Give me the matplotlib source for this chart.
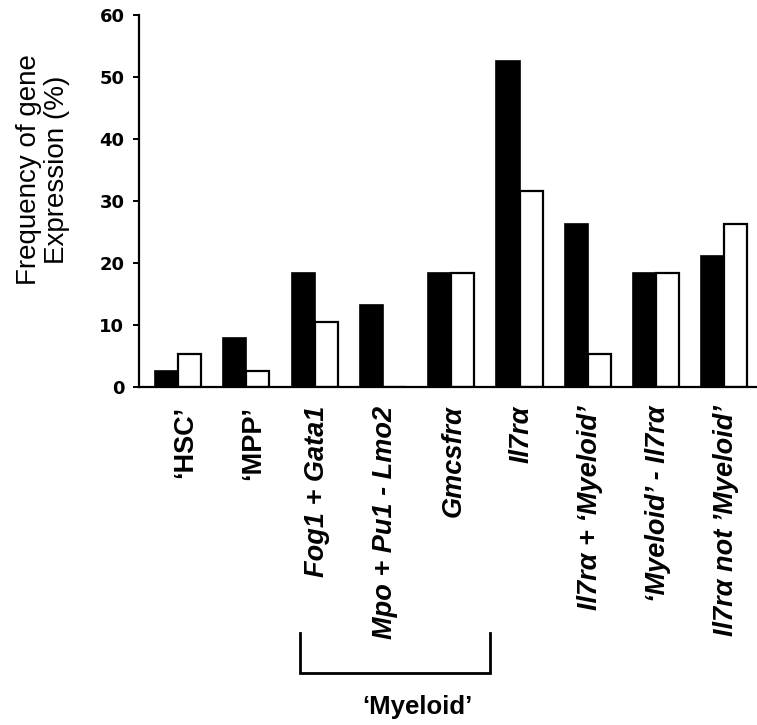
import matplotlib
matplotlib.use("Agg")
import matplotlib.pyplot as plt
import numpy as np
from matplotlib.transforms import blended_transform_factory, ScaledTranslation

# frequencies (%)
categories = ["\u2018HSC\u2019", "\u2018MPP\u2019", "Fog1 + Gata1", "Mpo + Pu1 - Lmo2",
              "Gmcsfr\u03b1", "Il7r\u03b1", "Il7r\u03b1 + \u2018Myeloid\u2019",
              "\u2018Myeloid\u2019 - Il7r\u03b1", "Il7r\u03b1 not \u2019Myeloid\u2019"]
italic_labels = [False, False, True, True, True, True, True, True, True]
black_vals = [2.6, 7.9, 18.4, 13.2, 18.4, 52.6, 26.3, 18.4, 21.1]
white_vals = [5.3, 2.6, 10.5, 0.0, 18.4, 31.6, 5.3, 18.4, 26.3]
yticks = [0, 10, 20, 30, 40, 50, 60]

fig = plt.figure(figsize=(7.57, 7.25), dpi=100)
ax = fig.add_axes([0.1836, 0.4662, 0.8164, 0.5131])

x = np.arange(len(categories))
w = 0.337
ax.bar(x - w, black_vals, width=w, align='edge', color='black', edgecolor='black', linewidth=1.2)
ax.bar(x, white_vals, width=w, align='edge', color='white', edgecolor='black', linewidth=1.6)

ax.set_xlim(-0.571, 8.477)
ax.set_ylim(0, 60)
ax.set_yticks(yticks)
ax.set_yticklabels([str(v) for v in yticks], fontfamily='DejaVu Sans', fontweight='bold', fontsize=13)
ax.tick_params(axis='y', direction='out', length=4.5, width=1.4, pad=6)
ax.set_xticks(x)
ax.set_xticklabels([])
ax.tick_params(axis='x', length=0)

for s in ['top', 'right']:
    ax.spines[s].set_visible(False)
ax.spines['left'].set_linewidth(1.6)
ax.spines['bottom'].set_linewidth(1.6)

# category labels, rotated, hanging below the axis
tr = blended_transform_factory(ax.transData, ax.transAxes)
for xi, lab, it in zip(x, categories, italic_labels):
    dx = 2 if it else 7
    ax.text(xi, -0.05, lab, transform=tr + ScaledTranslation(dx / 100, 0, fig.dpi_scale_trans),
            rotation=90, ha='center', va='top', fontfamily='Liberation Sans', fontweight='bold',
            fontstyle='italic' if it else 'normal', fontsize=19.5)

# bracket under the myeloid genes
ax.plot([1.786, 1.786, 4.57, 4.57], [-0.661, -0.769, -0.769, -0.661], color='black',
        linewidth=2.0, transform=tr, clip_on=False, solid_joinstyle='miter')
ax.text(3.5, -0.86, "\u2018Myeloid\u2019", transform=tr, ha='center', va='center',
        fontfamily='Liberation Sans', fontweight='bold', fontsize=18.5)

fig.text(0.057, 0.7655, "Frequency of gene\nExpression (%)", rotation=90, ha='center', va='center',
         multialignment='center', fontfamily='Liberation Sans', fontsize=20, linespacing=1.1)

fig.savefig("out.png", dpi=100)
